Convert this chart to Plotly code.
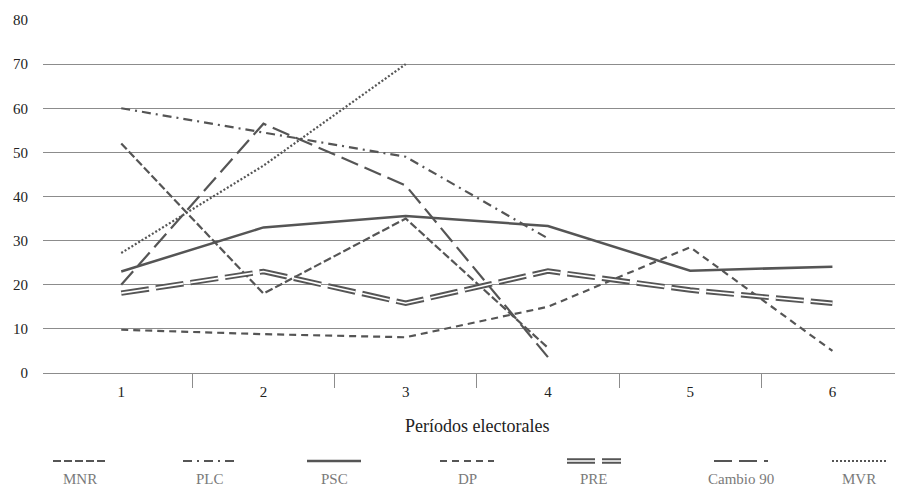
import plotly.graph_objects as go

# ---- data ----
periods = [1, 2, 3, 4, 5, 6]
period_labels = ["1", "2", "3", "4", "5", "6"]
y_ticks = [0, 10, 20, 30, 40, 50, 60, 70, 80]

mnr = [52, 18, 35, 5.7]
plc = [60, 54.5, 49, 30.5]
psc = [23, 33, 35.6, 33.3, 23.2, 24.1]
dp = [9.8, 8.8, 8.1, 15, 28.5, 5]
pre = [18.1, 23, 15.8, 23.1, 18.8, 15.8]
cambio90 = [20, 56.5, 42.5, 3.6]
mvr = [27.2, 47, 70]

series_names = ["MNR", "PLC", "PSC", "DP", "PRE", "Cambio 90", "MVR"]
series_values = [mnr, plc, psc, dp, pre, cambio90, mvr]

# ---- styles ----
LINE = "#555555"
GRID = "#8c8c8c"
FONT = "Liberation Serif"
styles = {
    "MNR": dict(dash="8px,3px", width=2.2),
    "PLC": dict(dash="9px,5px,2px,5px", width=2.2),
    "PSC": dict(dash="solid", width=2.5),
    "DP": dict(dash="7px,5px", width=2.2),
    "PRE": dict(dash="28px,7px", width=5.5),
    "Cambio 90": dict(dash="18px,7px", width=2.2),
    "MVR": dict(dash="2px,2px", width=2.2),
}

fig = go.Figure()
for name, vals in zip(series_names, series_values):
    st = styles[name]
    xs = periods[:len(vals)]
    fig.add_trace(go.Scatter(x=xs, y=vals, mode="lines", name=name,
                             line=dict(color=LINE, width=st["width"], dash=st["dash"]),
                             showlegend=False))
    if name == "PRE":
        fig.add_trace(go.Scatter(x=xs, y=vals, mode="lines", name=name + " inner",
                                 line=dict(color="white", width=1.6, dash=st["dash"]),
                                 showlegend=False, hoverinfo="skip"))

# ---- manual legend (symbol above label) ----
L, R, T, B = 43, 5, 20, 117
W, H = 900, 490
pw, ph = W - L - R, H - T - B
legend_centers_px = [80, 210, 334, 467, 594, 741, 859]
sym_y_px, lab_y_px, half = 461, 479, 27

def px_to_paper_x(px):
    return (px - L) / pw

def px_to_paper_y(py):
    return (H - B - py) / ph

for name, cx in zip(series_names, legend_centers_px):
    st = styles[name]
    x0, x1 = px_to_paper_x(cx - half), px_to_paper_x(cx + half)
    yy = px_to_paper_y(sym_y_px)
    fig.add_shape(type="line", xref="paper", yref="paper", x0=x0, x1=x1, y0=yy, y1=yy,
                  line=dict(color=LINE, width=st["width"], dash=st["dash"]))
    if name == "PRE":
        fig.add_shape(type="line", xref="paper", yref="paper", x0=x0, x1=x1, y0=yy, y1=yy,
                      line=dict(color="white", width=1.6, dash=st["dash"]))
    fig.add_annotation(text=name, xref="paper", yref="paper", x=px_to_paper_x(cx),
                       y=px_to_paper_y(lab_y_px), showarrow=False, xanchor="center", yanchor="middle",
                       font=dict(family=FONT, size=15, color="#7a7a7a"))

fig.add_annotation(text="Períodos electorales", xref="paper", yref="paper",
                   x=px_to_paper_x(477), y=px_to_paper_y(426), showarrow=False,
                   xanchor="center", yanchor="middle",
                   font=dict(family=FONT, size=18, color="#222222"))

fig.update_layout(
    width=W, height=H,
    margin=dict(l=L, r=R, t=T, b=B),
    plot_bgcolor="white", paper_bgcolor="white",
    font=dict(family=FONT, size=15, color="#222222"),
    xaxis=dict(range=[0.45, 6.44], tickvals=periods, ticktext=period_labels,
               ticks="", showgrid=False, zeroline=False,
               showline=True, linecolor=GRID, linewidth=1.3,
               ticklabelstandoff=5,
               minor=dict(tickvals=[1.5, 2.5, 3.5, 4.5, 5.5], ticks="outside",
                          ticklen=14, tickwidth=1.3, tickcolor=GRID, showgrid=False)),
    yaxis=dict(range=[0, 80], tickvals=y_ticks, ticks="", showgrid=True,
               gridcolor=GRID, gridwidth=1.3, zeroline=False, showline=False,
               ticklabelstandoff=14),
)

fig.write_html("out.html", config={"displayModeBar": False},
               post_script="document.body.style.margin='0';document.body.style.overflow='hidden';")
